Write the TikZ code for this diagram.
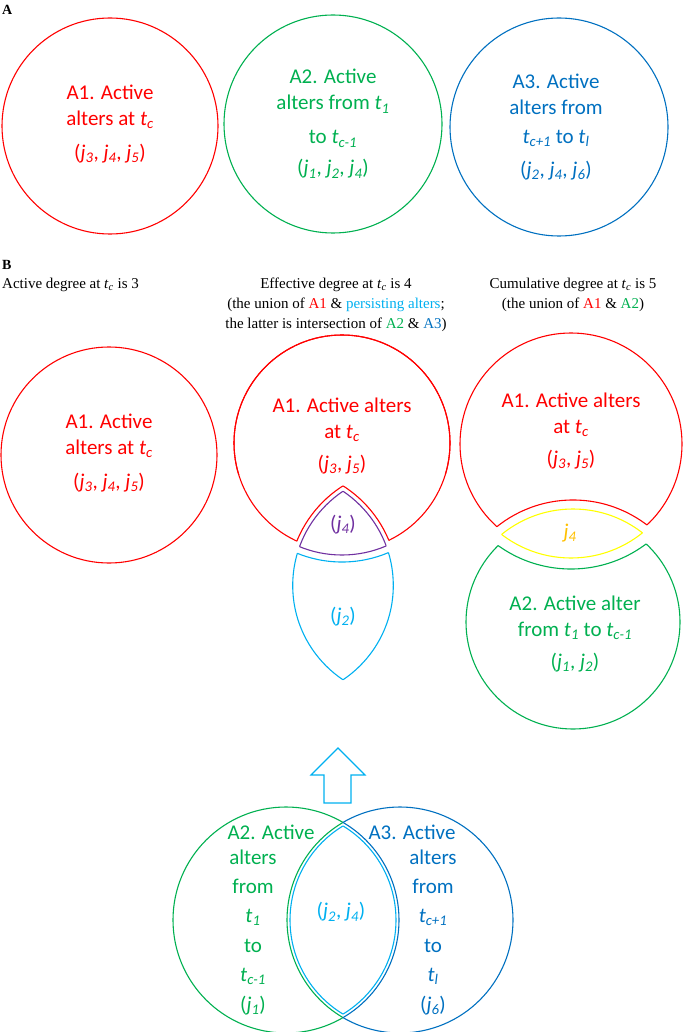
\documentclass[tikz,border=0pt]{standalone}
\usepackage{fontspec}
\setmainfont{Liberation Serif}
\newfontfamily\calf{Carlito}
\definecolor{cR}{RGB}{255,0,0}
\definecolor{cG}{RGB}{0,176,80}
\definecolor{cB}{RGB}{0,112,192}
\definecolor{cC}{RGB}{0,176,240}
\definecolor{cP}{RGB}{112,48,160}
\definecolor{cY}{RGB}{255,255,0}
\definecolor{cO}{RGB}{255,192,0}
\newcommand\tsub[2]{\textit{#1}\textsubscript{\textit{#2}}}
\newcommand\hsub[2]{\textit{#1}\textsubscript{\textit{#2}}}
\tikzset{
  ctext/.style={align=center,inner sep=0pt,font=\calf\fontsize{21}{26}\selectfont},
  htext/.style={align=center,inner sep=0pt,font=\fontsize{15}{20}\selectfont},
  ln/.style={line width=1.1pt},
}
\begin{document}
\begin{tikzpicture}[x=1pt,y=-1pt]
\useasboundingbox (0,0) rectangle (685,1032);
\def\outside#1#2{\clip (-20,-20) -- (-20,1052) -- (705,1052) -- (705,-20) -- cycle (#1) circle[radius=#2];}
% ---------- A ----------
\node[anchor=west,inner sep=0pt,font=\bfseries\fontsize{14}{16}\selectfont] (lA) at (2,10) {A};
\draw[ln,cR] (110,126) circle[radius=108];
\draw[ln,cG] (333,124) circle[radius=109];
\draw[ln,cB] (559,127) circle[radius=109];
\node[ctext,text=cR] (ta1) at (110,124) {A1. Active\\alters at \tsub{t}{c}\\[8pt](\tsub{j}{3}, \tsub{j}{4}, \tsub{j}{5})};
\node[ctext,text=cG] (ta2) at (333,124) {A2. Active\\alters from \tsub{t}{1}\\[8pt]to \tsub{t}{c-1}\\[5pt](\tsub{j}{1}, \tsub{j}{2}, \tsub{j}{4})};
\node[ctext,text=cB] (ta3) at (556,127) {A3. Active\\alters from\\[3pt]\tsub{t}{c+1} to \tsub{t}{l}\\[7pt](\tsub{j}{2}, \tsub{j}{4}, \tsub{j}{6})};
% ---------- B headings ----------
\node[anchor=west,inner sep=0pt,font=\bfseries\fontsize{14}{16}\selectfont] (lB) at (2,265) {B};
\node[htext,anchor=west] (h1) at (2,285) {Active degree at \hsub{t}{c} is 3};
\node[htext] (h2) at (336,305) {Effective degree at \hsub{t}{c} is 4\\(the union of \textcolor{cR}{A1} \& \textcolor{cC}{persisting alters};\\the latter is intersection of \textcolor{cG}{A2} \& \textcolor{cB}{A3})};
\node[htext] (h3) at (573,295) {Cumulative degree at \hsub{t}{c} is 5\\(the union of \textcolor{cR}{A1} \& \textcolor{cG}{A2})};
% ---------- B left ----------
\draw[ln,cR] (109,455) circle[radius=108];
\node[ctext,text=cR] (tb1) at (109,453) {A1. Active\\alters at \tsub{t}{c}\\[8pt](\tsub{j}{3}, \tsub{j}{4}, \tsub{j}{5})};
% ---------- B middle ----------
\coordinate (M) at (342,443);
\coordinate (L) at (406.2,585.5);
\coordinate (R) at (279.8,585.5);
\begin{scope}\outside{L}{118}\draw[ln,cR] (M) circle[radius=108];\end{scope}
\begin{scope}\outside{R}{118}\draw[ln,cR] (M) circle[radius=108];\end{scope}
\begin{scope}\clip (M) circle[radius=108];\clip (R) circle[radius=118];\draw[ln,cR] (L) circle[radius=118];\end{scope}
\begin{scope}\clip (M) circle[radius=108];\clip (L) circle[radius=118];\draw[ln,cR] (R) circle[radius=118];\end{scope}
% purple
\begin{scope}\clip (M) circle[radius=112];\clip (R) circle[radius=113.5];\draw[ln,cP] (L) circle[radius=113.5];\end{scope}
\begin{scope}\clip (M) circle[radius=112];\clip (L) circle[radius=113.5];\draw[ln,cP] (R) circle[radius=113.5];\end{scope}
\begin{scope}\clip (L) circle[radius=113.5];\clip (R) circle[radius=113.5];\draw[ln,cP] (M) circle[radius=112];\end{scope}
% cyan
\begin{scope}\outside{M}{119}\clip (R) circle[radius=113.5];\draw[ln,cC] (L) circle[radius=113.5];\end{scope}
\begin{scope}\outside{M}{119}\clip (L) circle[radius=113.5];\draw[ln,cC] (R) circle[radius=113.5];\end{scope}
\begin{scope}\clip (L) circle[radius=113.5];\clip (R) circle[radius=113.5];\draw[ln,cC] (M) circle[radius=119];\end{scope}
\node[ctext,text=cR] (tm1) at (342,436) {A1. Active alters\\at \tsub{t}{c}\\[6pt](\tsub{j}{3}, \tsub{j}{5})};
\node[ctext,text=cP] (tm2) at (343,525) {(\tsub{j}{4})};
\node[ctext,text=cC] (tm3) at (343,617) {(\tsub{j}{2})};
% ---------- B right ----------
\coordinate (RA) at (571,444);
\coordinate (RG) at (573,622);
\begin{scope}\outside{RG}{122}\draw[ln,cR] (RA) circle[radius=111];\end{scope}
\begin{scope}\clip (RA) circle[radius=111];\draw[ln,cR] (RG) circle[radius=122];\end{scope}
\begin{scope}\outside{RA}{125}\draw[ln,cG] (RG) circle[radius=107];\end{scope}
\begin{scope}\clip (RG) circle[radius=107];\draw[ln,cG] (RA) circle[radius=125];\end{scope}
\begin{scope}\clip (RG) circle[radius=113];\draw[ln,cY] (RA) circle[radius=114];\end{scope}
\begin{scope}\clip (RA) circle[radius=114];\draw[ln,cY] (RG) circle[radius=113];\end{scope}
\node[ctext,text=cR] (tr1) at (571,431) {A1. Active alters\\at \tsub{t}{c}\\[6pt](\tsub{j}{3}, \tsub{j}{5})};
\node[ctext,text=cO] (tr2) at (570,533) {\tsub{j}{4}};
\node[ctext,text=cG] (tr3) at (575,634) {A2. Active alter\\from \tsub{t}{1} to \tsub{t}{c-1}\\[6pt](\tsub{j}{1}, \tsub{j}{2})};
% ---------- arrow ----------
\draw[ln,cC] (338,748) -- (365,775) -- (351,775) -- (351,803) -- (324,803) -- (324,775) -- (311,775) -- cycle;
% ---------- bottom Venn ----------
\coordinate (VG) at (286,920);
\coordinate (VB) at (400,920);
\begin{scope}\outside{VB}{113}\draw[ln,cG] (VG) circle[radius=113];\end{scope}
\begin{scope}\clip (VG) circle[radius=113];\draw[ln,cG] (VB) circle[radius=113];\end{scope}
\begin{scope}\outside{VG}{113}\draw[ln,cB] (VB) circle[radius=113];\end{scope}
\begin{scope}\clip (VB) circle[radius=113];\draw[ln,cB] (VG) circle[radius=113];\end{scope}
\begin{scope}\clip (VB) circle[radius=110];\draw[ln,cC] (VG) circle[radius=110];\end{scope}
\begin{scope}\clip (VG) circle[radius=110];\draw[ln,cC] (VB) circle[radius=110];\end{scope}
\node[ctext,text=cG] (bg1) at (271,832) {A2. Active};
\node[ctext,text=cG,font=\calf\fontsize{21}{29.4}\selectfont] (bg2) at (253,932) {alters\\from\\\tsub{t}{1}\\to\\\tsub{t}{c-1}\\(\tsub{j}{1})};
\node[ctext,text=cB] (bb1) at (412,832) {A3. Active};
\node[ctext,text=cB,font=\calf\fontsize{21}{29.4}\selectfont] (bb2) at (433,932) {alters\\from\\\tsub{t}{c+1}\\to\\\tsub{t}{l}\\(\tsub{j}{6})};
\node[ctext,text=cC] (bc) at (341,912) {(\tsub{j}{2}, \tsub{j}{4})};
\end{tikzpicture}
\end{document}
